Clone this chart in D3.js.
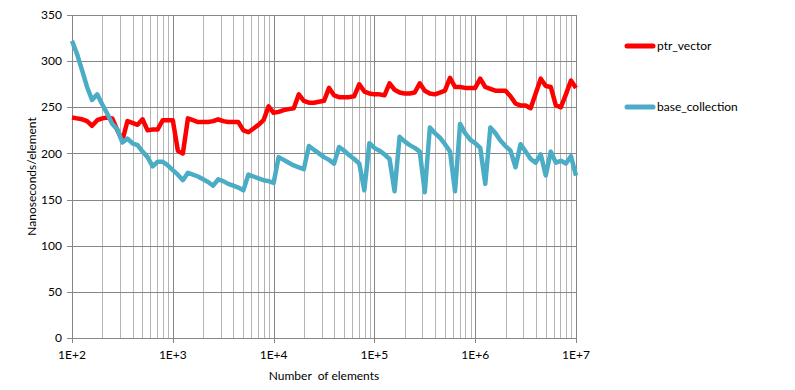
<!DOCTYPE html>
<html>
<head>
<meta charset="utf-8">
<script src="https://cdn.jsdelivr.net/npm/d3@7"></script>
<style>
body { margin: 0; background: #fff; }
svg { display: block; font-family: Lato, "Open Sans", sans-serif; }
</style>
</head>
<body>
<div id="chart"></div>
<script>
// number of elements, sampled 20 per decade
const sizes = [
  100, 112, 126, 141, 158, 178, 200, 224, 251, 282, 316, 355, 398, 447, 501, 562, 631, 708, 794, 891,
  1000, 1122, 1259, 1413, 1585, 1778, 1995, 2239, 2512, 2818, 3162, 3548, 3981, 4467, 5012, 5623, 6310, 7079, 7943, 8913,
  10000, 11220, 12589, 14125, 15849, 17783, 19953, 22387, 25119, 28184, 31623, 35481, 39811, 44668, 50119, 56234, 63096, 70795, 79433, 89125,
  100000, 112202, 125893, 141254, 158489, 177828, 199526, 223872, 251189, 281838, 316228, 354813, 398107, 446684, 501187, 562341, 630957, 707946, 794328, 891251,
  1000000, 1122018, 1258925, 1412538, 1584893, 1778279, 1995262, 2238721, 2511886, 2818383, 3162278, 3548134, 3981072, 4466836, 5011872, 5623413, 6309573, 7079458, 7943282, 8912509,
  10000000
];

const ptrVector = [
  239, 238, 237, 235, 230, 236, 238, 239, 238, 225, 214, 235, 233, 231, 237, 225, 226, 226, 236, 236,
  236, 203, 200, 238, 236, 234, 234, 234, 235, 237, 235, 234, 234, 234, 225, 223, 227, 231, 236, 251,
  244, 245, 247, 248, 249, 264, 257, 255, 255, 256, 257, 271, 263, 261, 261, 261, 262, 275, 267, 265,
  264, 264, 263, 276, 269, 266, 265, 265, 266, 276, 268, 265, 264, 266, 268, 282, 272, 272, 271, 271,
  271, 281, 272, 270, 268, 268, 268, 262, 254, 252, 252, 249, 265, 281, 273, 272, 252, 250, 264, 279,
  271
];

const baseCollection = [
  322, 308, 290, 272, 258, 264, 253, 243, 232, 226, 212, 216, 211, 209, 202, 196, 186, 191, 191, 187,
  182, 177, 171, 179, 177, 175, 172, 169, 165, 172, 170, 167, 165, 163, 160, 177, 175, 173, 171, 170,
  168, 196, 193, 190, 187, 185, 183, 208, 204, 200, 196, 193, 189, 207, 203, 198, 194, 189, 160, 211,
  206, 203, 199, 194, 159, 218, 213, 209, 206, 202, 158, 228, 222, 217, 210, 202, 159, 232, 222, 215,
  211, 206, 167, 228, 222, 214, 208, 203, 185, 210, 202, 194, 190, 199, 176, 202, 190, 192, 189, 197,
  176
];

const series = [
  { name: "ptr_vector", values: ptrVector, color: "#ff0000" },
  { name: "base_collection", values: baseCollection, color: "#4bacc6" }
];

const yTicks = [0, 50, 100, 150, 200, 250, 300, 350];

const width = 795, height = 390;
const margin = { top: 15, right: 219, bottom: 52, left: 72 };

const svg = d3.select("#chart").append("svg")
  .attr("width", width)
  .attr("height", height);

const x = d3.scaleLog()
  .domain([100, 10000000])
  .range([margin.left, width - margin.right]);

const y = d3.scaleLinear()
  .domain([0, 350])
  .range([height - margin.bottom, margin.top]);

const isMajor = v => Math.abs(Math.log10(v) - Math.round(Math.log10(v))) < 1e-9;

// vertical grid, minor first then decades on top
const xt = x.ticks();
svg.append("g")
  .selectAll("line")
  .data(xt.filter(v => !isMajor(v)))
  .join("line")
  .attr("x1", d => Math.round(x(d)) + 0.5)
  .attr("x2", d => Math.round(x(d)) + 0.5)
  .attr("y1", y(350))
  .attr("y2", y(0))
  .attr("stroke", "#b4b4b4")
  .attr("stroke-width", 1);

// horizontal grid
svg.append("g")
  .selectAll("line")
  .data(yTicks)
  .join("line")
  .attr("x1", x(100) - 5)
  .attr("x2", x(10000000))
  .attr("y1", d => Math.round(y(d)) + 0.5)
  .attr("y2", d => Math.round(y(d)) + 0.5)
  .attr("stroke", "#868686")
  .attr("stroke-width", 1);

svg.append("g")
  .selectAll("line")
  .data(xt.filter(isMajor))
  .join("line")
  .attr("x1", d => Math.round(x(d)) + 0.5)
  .attr("x2", d => Math.round(x(d)) + 0.5)
  .attr("y1", y(350))
  .attr("y2", y(0) + 5)
  .attr("stroke", "#868686")
  .attr("stroke-width", 1);

// tick labels
svg.append("g")
  .selectAll("text")
  .data(yTicks)
  .join("text")
  .attr("x", x(100) - 10)
  .attr("y", d => y(d))
  .attr("dy", "0.35em")
  .attr("text-anchor", "end")
  .attr("font-size", 12)
  .attr("fill", "#000")
  .text(d => d);

svg.append("g")
  .selectAll("text")
  .data(xt.filter(isMajor))
  .join("text")
  .attr("x", d => x(d))
  .attr("y", y(0) + 17)
  .attr("dy", "0.35em")
  .attr("text-anchor", "middle")
  .attr("font-size", 12)
  .attr("fill", "#000")
  .text(d => "1E+" + Math.round(Math.log10(d)));

// axis titles
svg.append("text")
  .attr("x", (x(100) + x(10000000)) / 2)
  .attr("y", y(0) + 38)
  .attr("dy", "0.35em")
  .attr("text-anchor", "middle")
  .attr("font-size", 12)
  .attr("xml:space", "preserve")
  .text("Number  of elements");

svg.append("text")
  .attr("transform", `translate(32,${(y(0) + y(350)) / 2}) rotate(-90)`)
  .attr("dy", "0.35em")
  .attr("text-anchor", "middle")
  .attr("font-size", 12)
  .text("Nanoseconds/element");

// lines
const line = d3.line()
  .x((d, i) => x(sizes[i]))
  .y(d => y(d));

svg.append("g")
  .selectAll("path")
  .data(series)
  .join("path")
  .attr("fill", "none")
  .attr("stroke", d => d.color)
  .attr("stroke-width", 4.5)
  .attr("stroke-linejoin", "round")
  .attr("d", d => line(d.values));

// legend
const legend = svg.append("g")
  .selectAll("g")
  .data(series)
  .join("g")
  .attr("transform", (d, i) => `translate(627,${46 + i * 61})`);

legend.append("line")
  .attr("x1", 0)
  .attr("x2", 26)
  .attr("stroke", d => d.color)
  .attr("stroke-width", 5)
  .attr("stroke-linecap", "round");

legend.append("text")
  .attr("x", 30)
  .attr("dy", "0.35em")
  .attr("font-size", 12)
  .text(d => d.name);
</script>
</body>
</html>
